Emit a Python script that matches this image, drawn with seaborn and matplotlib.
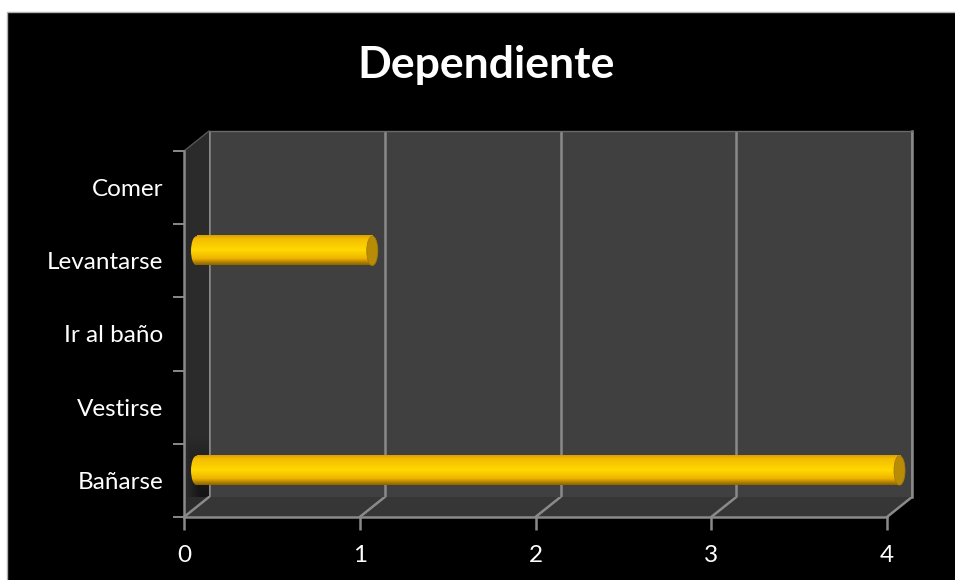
import numpy as np
import pandas as pd
import matplotlib
matplotlib.use("Agg")
import matplotlib.pyplot as plt
from matplotlib.colors import LinearSegmentedColormap
from matplotlib.patches import Ellipse, Polygon, Rectangle
import seaborn as sns

# Activities and how many people depend on help for each one
categories = ["Comer", "Levantarse", "Ir al baño", "Vestirse", "Bañarse"]
values = [0, 1, 0, 0, 4]
x_ticks = [0, 1, 2, 3, 4]
title = "Dependiente"

sns.set_theme(style="white")
plt.rcParams["font.family"] = ["Lato", "DejaVu Sans"]

W, H = 955, 580
fig = plt.figure(figsize=(W / 100, H / 100), dpi=100, facecolor="white")

# Front plane of the box in pixels, and the depth offset of the back wall
LEFT, RIGHT, TOP, BOTTOM = 184, 887, 151, 517
DX, DY = 25, 20
LINE = "#8a8a8a"
WALL = "#2b2b2b"


def plane_axes(dx, dy):
    """Axes aligned with the front plane, pushed back by (dx, dy) pixels."""
    return fig.add_axes([(LEFT + dx) / W, 1 - (BOTTOM - dy) / H,
                         (RIGHT - LEFT) / W, (BOTTOM - TOP) / H])


# Pixel-space canvas for the slide background, side wall and floor
canvas = fig.add_axes([0, 0, 1, 1], zorder=0)
canvas.set_xlim(0, W)
canvas.set_ylim(H, 0)
canvas.axis("off")
canvas.add_patch(Rectangle((7, 12), W, H, fc="black", ec="#b0b0b0", lw=1))
canvas.add_patch(Polygon([(LEFT, TOP), (LEFT + DX, TOP - DY), (LEFT + DX, BOTTOM - DY),
                          (LEFT, BOTTOM)], fc=WALL, ec="none"))
canvas.add_patch(Polygon([(LEFT, BOTTOM), (LEFT + DX, BOTTOM - DY), (RIGHT + DX, BOTTOM - DY),
                          (RIGHT, BOTTOM)], fc="#363636", ec="none"))

# Soft shadow cast on the side wall next to the longest bar
down = np.linspace(0, 1, 64).reshape(-1, 1)
across = np.linspace(0, 1, 32).reshape(1, -1)
shade_cmap = LinearSegmentedColormap.from_list("shade", [WALL, "#141414"])
shadow = canvas.imshow(np.minimum(down, across * 1.6), extent=(LEFT + 2, LEFT + DX, BOTTOM - DY, BOTTOM - 82),
                       cmap=shade_cmap, vmin=0, vmax=1, aspect="auto", zorder=1)
canvas.set_xlim(0, W)
canvas.set_ylim(H, 0)

# Back wall with its vertical gridlines
back = plane_axes(DX, DY)
back.set_zorder(1)
back.set_facecolor("#404040")
back.set_xlim(x_ticks[0], x_ticks[-1])
back.set_ylim(0, 1)
back.set_yticks([])
back.set_xticks(x_ticks)
back.tick_params(length=0, labelbottom=False)
back.grid(axis="x", color=LINE, lw=1.8)
for name, spine in back.spines.items():
    spine.set_visible(name == "top" or name == "right")
    spine.set_color("#6a6a6a" if name == "top" else LINE)
    spine.set_linewidth(1.0 if name == "top" else 1.8)

# Front plane: axis lines, ticks and labels
front = plane_axes(0, 0)
front.set_zorder(2)
front.patch.set_alpha(0)
front.set_xlim(x_ticks[0], x_ticks[-1])
front.set_ylim(len(categories) - 0.5, -0.5)
front.set_xticks(x_ticks)
front.set_yticks(range(len(categories)), categories)
front.set_yticks(np.arange(len(categories) + 1) - 0.5, minor=True)
front.tick_params(axis="x", length=9, width=1.8, color=LINE,
                  labelcolor="white", labelsize=17.5, pad=11, bottom=True)
front.tick_params(axis="y", which="major", length=0, labelcolor="white", labelsize=17.5, pad=15)
front.tick_params(axis="y", which="minor", length=8, width=1.4, color=LINE, left=True)
for name, spine in front.spines.items():
    spine.set_visible(name in ("left", "bottom"))
    spine.set_color(LINE)
    spine.set_linewidth(1.8)

# Slanted floor lines joining the front ticks to the back gridlines
for tick in x_ticks:
    px = LEFT + (RIGHT - LEFT) * (tick - x_ticks[0]) / (x_ticks[-1] - x_ticks[0])
    canvas.plot([px, px + DX], [BOTTOM, BOTTOM - DY], color=LINE, lw=1.8, zorder=2)
canvas.plot([LEFT, LEFT + DX], [TOP, TOP - DY], color="#555555", lw=1.0, zorder=2)

# Cylinders sit halfway between the front plane and the back wall
mid = plane_axes(DX / 2, DY / 2)
mid.set_zorder(3)
mid.patch.set_alpha(0)
frame = pd.DataFrame({"actividad": categories, "personas": values})
sns.barplot(data=frame, x="personas", y="actividad", order=categories, orient="h",
            width=0.4, color="#ffd000", saturation=1, linewidth=0, ax=mid)
mid.set_xlim(x_ticks[0], x_ticks[-1])
mid.set_ylim(len(categories) - 0.5, -0.5)
mid.axis("off")

body_cmap = LinearSegmentedColormap.from_list(
    "cylinder", [(0, "#d99f00"), (0.12, "#f4bd00"), (0.5, "#ffd800"),
                 (0.78, "#f0b400"), (0.93, "#a87a00"), (1, "#8a6400")])
gradient = np.linspace(0, 1, 128).reshape(-1, 1)
cap_w = 11 / ((RIGHT - LEFT) / (x_ticks[-1] - x_ticks[0]))

for bar in list(mid.patches):
    if bar.get_width() <= 0:
        bar.set_visible(False)
        continue
    x0, x1 = bar.get_x(), bar.get_x() + bar.get_width()
    y0, y1 = bar.get_y(), bar.get_y() + bar.get_height()
    yc = (y0 + y1) / 2
    # Rounded near end, shaded body, then the flat far end of the cylinder
    near = mid.imshow(gradient, extent=(x0 - cap_w / 2, x0 + 0.001, y1, y0), cmap=body_cmap,
                      aspect="auto", zorder=3)
    near.set_clip_box(fig.bbox)
    near.set_clip_path(Ellipse((x0, yc), cap_w, y1 - y0, transform=mid.transData))
    body = mid.imshow(gradient, extent=(x0, x1, y1, y0), cmap=body_cmap,
                      aspect="auto", zorder=3)
    body.set_clip_box(fig.bbox)
    mid.add_patch(Ellipse((x1, yc), cap_w, y1 - y0, fc="#b98c08", ec="#a87e00",
                          lw=0.6, zorder=4, clip_on=False))

mid.set_xlim(x_ticks[0], x_ticks[-1])
mid.set_ylim(len(categories) - 0.5, -0.5)

fig.text(486 / W, 1 - 65 / H, title, color="white", fontsize=32, fontweight="bold",
         ha="center", va="center")

fig.savefig("out.png", dpi=100, facecolor="white")
